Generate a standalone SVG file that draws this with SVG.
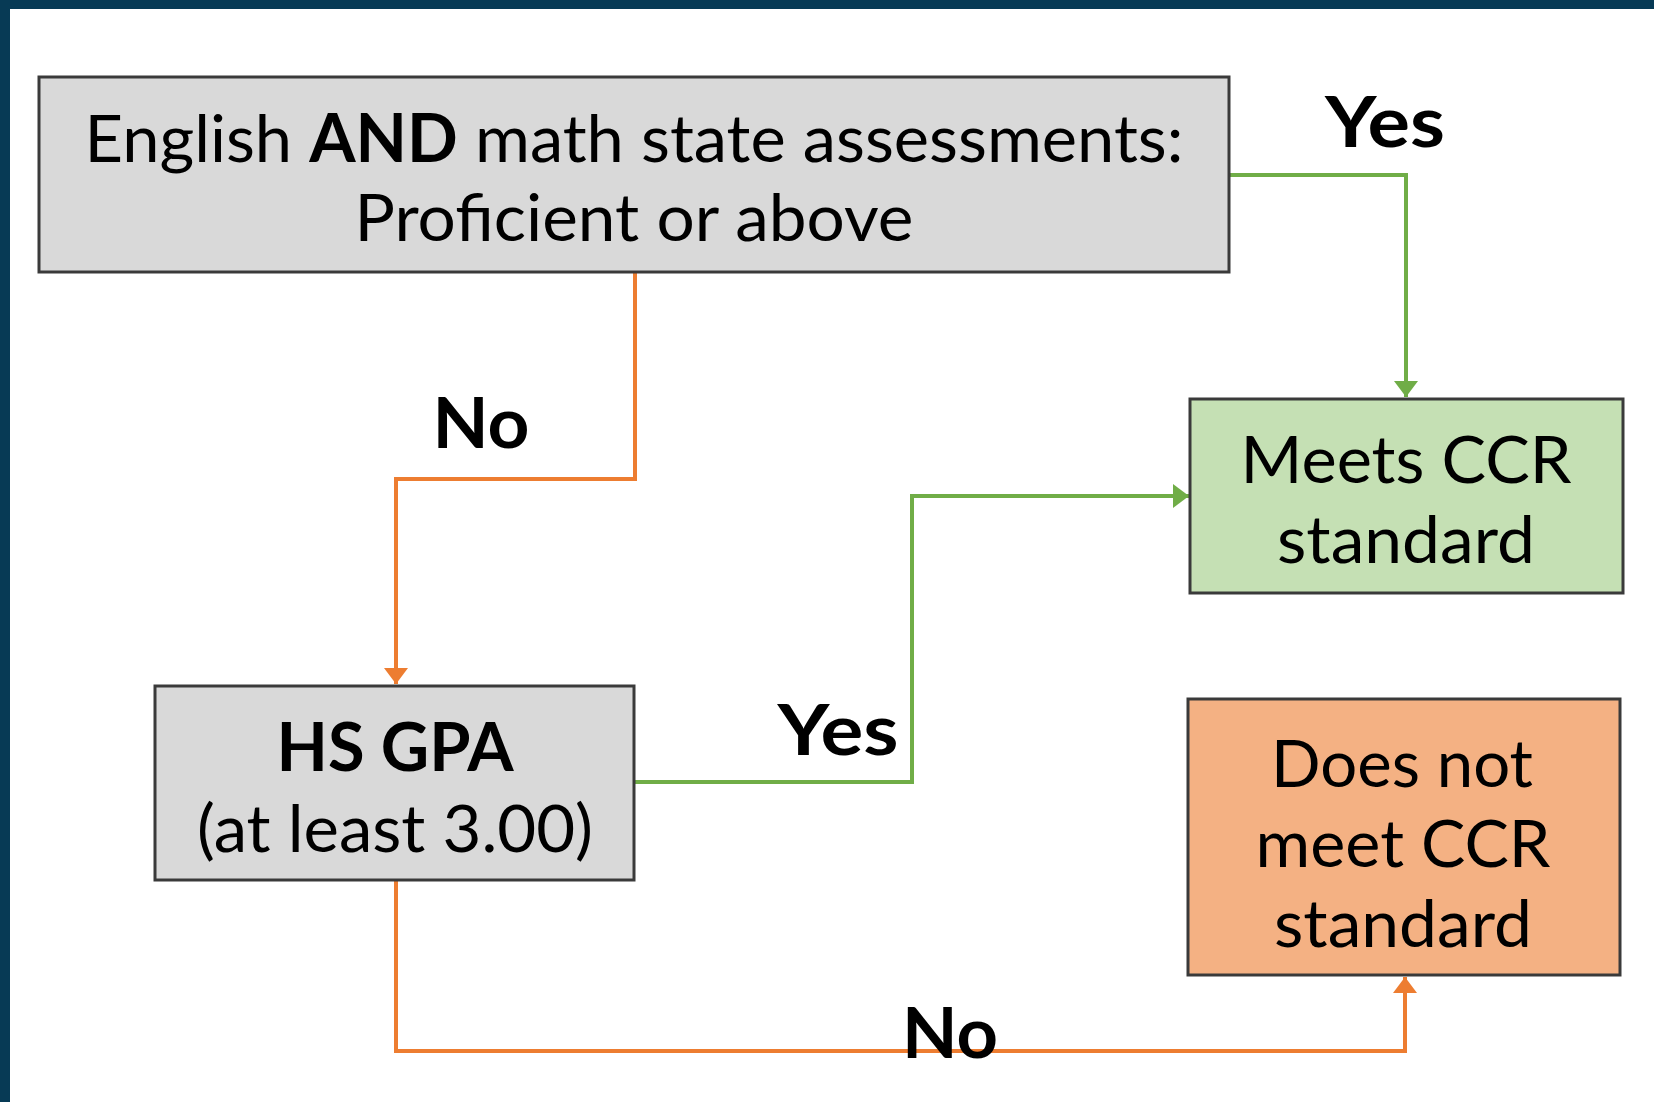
<svg xmlns="http://www.w3.org/2000/svg" width="1654" height="1102" viewBox="0 0 1654 1102">
<style>
.box{stroke:#3a3a3a;stroke-width:3}
.gray{fill:#d9d9d9}
.green{fill:#c5e0b4}
.orange{fill:#f4b183}
.t{font-family:Lato,"Liberation Sans",sans-serif;font-size:66px;fill:#000;text-anchor:middle}
.lbl{font-family:Lato,"Liberation Sans",sans-serif;font-size:70px;font-weight:bold;fill:#000;text-anchor:middle}
.cg{fill:none;stroke:#70ad47;stroke-width:4}
.co{fill:none;stroke:#ed7d31;stroke-width:4}
</style>
<defs>
<marker id="ag" viewBox="0 0 8 12" refX="8" refY="6" markerWidth="4" markerHeight="6" orient="auto" markerUnits="strokeWidth"><path d="M0,0 L8,6 L0,12 Z" fill="#70ad47"/></marker>
<marker id="ao" viewBox="0 0 8 12" refX="8" refY="6" markerWidth="4" markerHeight="6" orient="auto" markerUnits="strokeWidth"><path d="M0,0 L8,6 L0,12 Z" fill="#ed7d31"/></marker>
</defs>
<rect x="0" y="0" width="1654" height="1102" fill="#ffffff"/>
<rect x="0" y="0" width="1654" height="9" fill="#073a55"/>
<rect x="0" y="0" width="10" height="1102" fill="#073a55"/>
<g id="connectors">
<polyline class="cg" points="1229,175 1406,175 1406,397" marker-end="url(#ag)"/>
<polyline class="co" points="635,272 635,479 396,479 396,684" marker-end="url(#ao)"/>
<polyline class="cg" points="634,782 912,782 912,496 1189,496" marker-end="url(#ag)"/>
<polyline class="co" points="396,880 396,1051 1405,1051 1405,977" marker-end="url(#ao)"/>
</g>
<g id="labels">
<text class="lbl" x="1385" y="147" textLength="120" lengthAdjust="spacingAndGlyphs">Yes</text>
<text class="lbl" x="481" y="448" textLength="97" lengthAdjust="spacingAndGlyphs">No</text>
<text class="lbl" x="838" y="755" textLength="121" lengthAdjust="spacingAndGlyphs">Yes</text>
<text class="lbl" x="950" y="1058" textLength="96" lengthAdjust="spacingAndGlyphs">No</text>
</g>
<g id="node-assessments">
<rect class="box gray" x="39" y="77" width="1190" height="195"/>
<text class="t" x="634" y="162" textLength="1099" lengthAdjust="spacingAndGlyphs">English <tspan font-weight="bold">AND</tspan> math state assessments:</text>
<text class="t" x="634" y="241" textLength="559" lengthAdjust="spacingAndGlyphs">Proficient or above</text>
</g>
<g id="node-meets">
<rect class="box green" x="1190" y="399" width="433" height="194"/>
<text class="t" x="1406" y="483" textLength="331" lengthAdjust="spacingAndGlyphs">Meets CCR</text>
<text class="t" x="1406" y="563" textLength="258" lengthAdjust="spacingAndGlyphs">standard</text>
</g>
<g id="node-gpa">
<rect class="box gray" x="155" y="686" width="479" height="194"/>
<text class="t" x="395" y="771" font-weight="bold" textLength="237" lengthAdjust="spacingAndGlyphs">HS GPA</text>
<text class="t" x="395" y="852" textLength="396" lengthAdjust="spacingAndGlyphs">(at least 3.00)</text>
</g>
<g id="node-notmeet">
<rect class="box orange" x="1188" y="699" width="432" height="276"/>
<text class="t" x="1402" y="787" textLength="262" lengthAdjust="spacingAndGlyphs">Does not</text>
<text class="t" x="1403" y="867" textLength="295" lengthAdjust="spacingAndGlyphs">meet CCR</text>
<text class="t" x="1403" y="947" textLength="258" lengthAdjust="spacingAndGlyphs">standard</text>
</g>
</svg>
